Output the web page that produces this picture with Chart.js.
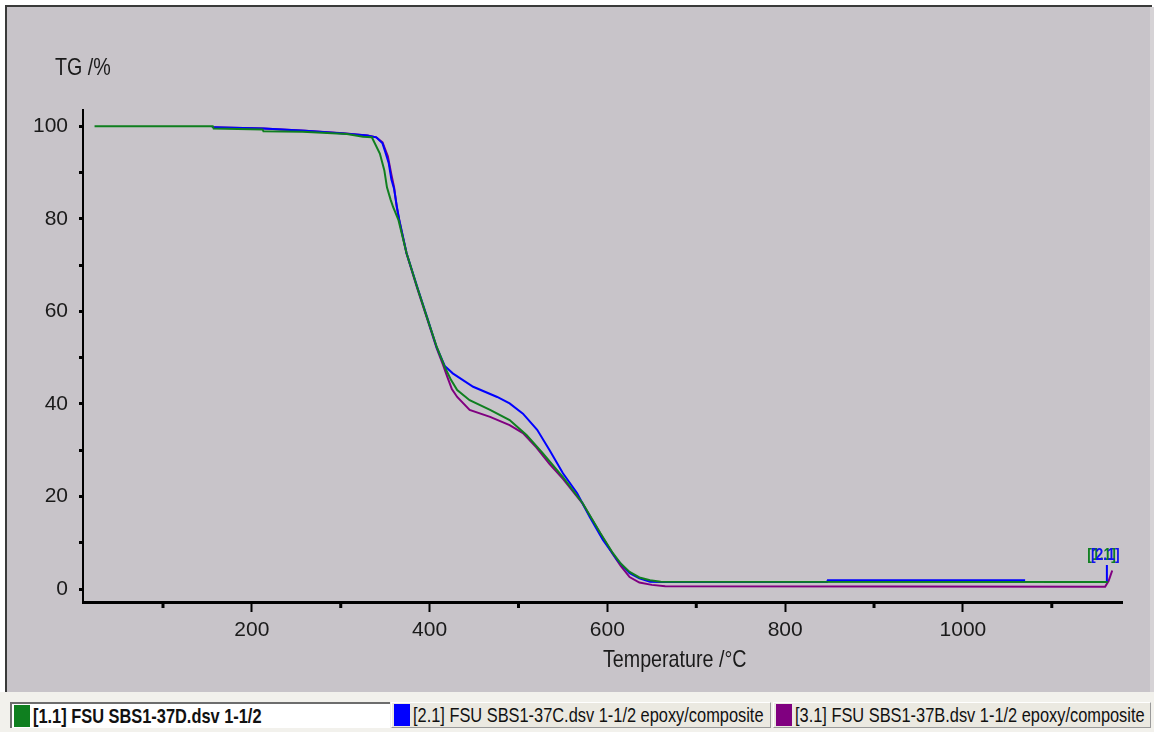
<!DOCTYPE html>
<html>
<head>
<meta charset="utf-8">
<script src="https://cdn.jsdelivr.net/npm/chart.js@4.4.1/dist/chart.umd.min.js"></script>
<style>
  html, body { margin: 0; padding: 0; background: #fff; }
  body { width: 1154px; height: 732px; position: relative; overflow: hidden;
         font-family: "Liberation Sans", Arial, sans-serif; }
  #panel { position: absolute; left: 5px; top: 5px; width: 1145px; height: 687px;
           background: #c8c4c9; border-left: 2px solid #3a3a3a; border-top: 2px solid #3a3a3a; }
  #edge { position: absolute; left: 1150px; top: 7px; width: 4px; height: 685px; background: #d6d3d6; }
  #strip { position: absolute; left: 0; top: 692px; width: 1154px; height: 40px; background: #f2f1ec; }
  .cell { position: absolute; top: 702px; height: 26px; box-sizing: border-box; overflow: hidden;
          font-size: 21px; line-height: 24px; color: #111; white-space: nowrap; }
  .cell .sw { position: absolute; left: 2px; top: 1px; width: 16px; height: 22px; }
  .cell .tx { position: absolute; left: 21px; top: 0; transform: scaleX(0.78); transform-origin: 0 0; }
  #c1 { left: 10px; width: 380px; background: #fff; border-top: 2px solid #6d6d6d; border-left: 2px solid #6d6d6d; font-weight: bold; }
  #c2 { left: 391px; width: 380px; background: #ebe9e1; border: 1px solid #9a9a9a; border-top-color: #fff; border-left-color: #fff; }
  #c3 { left: 773px; width: 378px; background: #ebe9e1; border: 1px solid #9a9a9a; border-top-color: #fff; border-left-color: #fff; }
  #chart { position: absolute; left: 0; top: 0; }
</style>
</head>
<body>
<div id="panel"></div>
<div id="edge"></div>
<div id="strip"></div>
<div class="cell" id="c1"><span class="sw" style="background:#0f7f1f"></span><span class="tx">[1.1] FSU SBS1-37D.dsv 1-1/2</span></div>
<div class="cell" id="c2"><span class="sw" style="background:#0000ff"></span><span class="tx">[2.1] FSU SBS1-37C.dsv 1-1/2 epoxy/composite</span></div>
<div class="cell" id="c3"><span class="sw" style="background:#800080"></span><span class="tx">[3.1] FSU SBS1-37B.dsv 1-1/2 epoxy/composite</span></div>
<canvas id="chart" width="1154" height="732"></canvas>
<script>
// temperature (°C) and mass (%)
const greenT  = [23, 156, 157, 212, 213, 257, 307, 325, 335, 344, 349, 352, 356, 359, 365, 374, 386, 397, 408, 417, 424, 431, 445, 468, 490, 509, 527, 550, 572, 592, 606, 615, 625, 636, 648, 660, 1163];
const greenTG = [100, 100, 99.5, 99.3, 98.9, 98.8, 98.3, 97.7, 97.6, 94.1, 90.5, 86.8, 84.2, 82.5, 79.7, 72.6, 65.2, 58.7, 52.3, 48.0, 45.2, 43.0, 40.8, 38.7, 36.5, 33.3, 29.4, 24.2, 18.6, 12.1, 7.8, 5.5, 3.7, 2.5, 1.9, 1.6, 1.5];

const blueT  = [155, 213, 260, 303, 330, 340, 347, 350, 354, 357, 360, 363, 366, 374, 386, 397, 408, 417, 426, 449, 476, 490, 505, 521, 535, 550, 566, 580, 595, 611, 625, 636, 648, 660, 847, 848, 1070, 1100, 1162, 1162];
const blueTG = [99.8, 99.5, 99.0, 98.4, 98.0, 97.6, 96.3, 94.5, 92.0, 88.5, 86.5, 82.8, 79.6, 72.6, 65.3, 58.8, 52.2, 48.2, 46.6, 43.7, 41.5, 40.1, 37.9, 34.4, 30.0, 25.0, 20.7, 15.6, 10.6, 6.3, 3.4, 2.3, 1.6, 1.5, 1.5, 1.9, 1.9, null, 1.5, 5.2];

const purpleT  = [155, 213, 260, 303, 330, 340, 347, 350, 353, 357, 360, 363, 366, 374, 386, 397, 408, 415, 420, 425, 431, 445, 468, 490, 505, 520, 535, 550, 572, 592, 606, 615, 625, 636, 650, 665, 1160, 1164, 1168];
const purpleTG = [99.8, 99.5, 99.0, 98.5, 98.0, 97.6, 96.5, 95.0, 93.5, 89.5, 86.8, 82.5, 79.5, 72.5, 65.0, 58.5, 52.0, 48.5, 45.8, 43.2, 41.5, 38.7, 37.2, 35.4, 33.7, 30.6, 27.0, 23.8, 18.5, 12.0, 7.6, 5.0, 2.6, 1.4, 0.9, 0.6, 0.5, 1.8, 4.0];

const yTitle = 'TG /%';
const xTitle = 'Temperature /°C';

const FONT = '"Liberation Sans", Arial, sans-serif';
Chart.defaults.font.family = FONT;
Chart.defaults.color = '#1a1a1a';

function pts(t, v) {
    return t.map((x, i) => ({ x: x, y: v[i] }));
}

// condensed canvas text, like the narrow font of the original
function narrowText(ctx, str, x, y, font, color) {
    ctx.save();
    ctx.translate(x, y);
    ctx.scale(0.82, 1);
    ctx.font = font;
    ctx.fillStyle = color;
    ctx.textBaseline = 'alphabetic';
    ctx.fillText(str, 0, 0);
    ctx.restore();
}

// short minor ticks, axis titles and the curve end labels
const extras = {
    id: 'extras',
    afterDraw(chart) {
        const ctx = chart.ctx;
        const xs = chart.scales.x, ys = chart.scales.y;
        ctx.save();
        ctx.strokeStyle = '#000';
        ctx.lineWidth = 3;
        xs.ticks.forEach(t => {
            if (t.value % 200 === 0) return;
            const px = xs.getPixelForValue(t.value);
            ctx.beginPath();
            ctx.moveTo(px, xs.top);
            ctx.lineTo(px, xs.top + 6);
            ctx.stroke();
        });
        ctx.restore();
        narrowText(ctx, yTitle, 55, 75, '24px ' + FONT, '#1a1a1a');
        narrowText(ctx, xTitle, 603, 667, '24px ' + FONT, '#1a1a1a');
        narrowText(ctx, '[1.1]', xs.getPixelForValue(1140), ys.getPixelForValue(6.2), 'bold 17px ' + FONT, '#0f7f1f');
        narrowText(ctx, '[2.1]', xs.getPixelForValue(1144), ys.getPixelForValue(6.2), 'bold 17px ' + FONT, '#1010ee');
    }
};

var ctx = document.getElementById('chart').getContext('2d');
var chart = new Chart(ctx, {
    type: 'line',
    data: {
        datasets: [
            { label: '[1.1] FSU SBS1-37D.dsv 1-1/2', data: pts(greenT, greenTG), borderColor: '#0f7f1f' },
            { label: '[2.1] FSU SBS1-37C.dsv 1-1/2 epoxy/composite', data: pts(blueT, blueTG), borderColor: '#0000ff' },
            { label: '[3.1] FSU SBS1-37B.dsv 1-1/2 epoxy/composite', data: pts(purpleT, purpleTG), borderColor: '#800080' }
        ]
    },
    options: {
        responsive: false,
        animation: false,
        spanGaps: false,
        elements: {
            line: { borderWidth: 2, tension: 0, fill: false },
            point: { radius: 0 }
        },
        layout: { padding: { left: 0, right: 32, top: 110, bottom: 70 } },
        plugins: { legend: { display: false }, tooltip: { enabled: false } },
        scales: {
            x: {
                type: 'linear',
                min: 10,
                max: 1179,
                afterFit: s => { s.height = 60; },
                border: { color: '#000', width: 3 },
                grid: {
                    drawOnChartArea: false, drawTicks: true, tickLength: 10, tickWidth: 2,
                    tickColor: c => (c.tick && c.tick.value % 200 === 0 ? '#000' : 'rgba(0,0,0,0)')
                },
                ticks: {
                    stepSize: 100, includeBounds: false, autoSkip: false, padding: 6,
                    font: { size: 21 }, color: '#1a1a1a', maxRotation: 0,
                    callback: v => (v % 200 === 0 ? v : '')
                }
            },
            y: {
                min: -2.8,
                max: 103.5,
                afterFit: s => { s.width = 83; },
                border: { color: '#000', width: 2 },
                grid: { drawOnChartArea: false, drawTicks: true, tickLength: 4, tickWidth: 3, tickColor: '#000' },
                ticks: {
                    stepSize: 10,
                    includeBounds: false,
                    autoSkip: false,
                    padding: 11,
                    font: { size: 21 },
                    color: '#1a1a1a',
                    callback: v => (v % 20 === 0 ? v : '')
                }
            }
        }
    },
    plugins: [extras]
});
</script>
</body>
</html>
